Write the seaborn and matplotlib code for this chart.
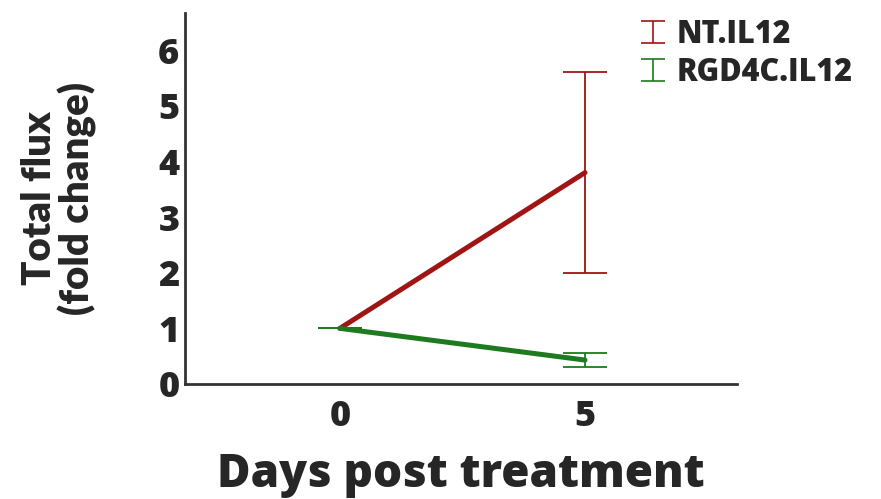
import numpy as np
import pandas as pd
import matplotlib.pyplot as plt
import seaborn as sns
from matplotlib.container import ErrorbarContainer
from matplotlib.legend_handler import HandlerErrorbar

sns.set_theme(style="white")
plt.rcParams['font.family'] = ['Open Sans', 'DejaVu Sans']

# data
days = [0, 5]
groups = ['NT.IL12', 'RGD4C.IL12']
nt_mean = [1.0, 3.8]
nt_err = [0.0, 1.8]
rgd_mean = [1.0, 0.43]
rgd_err = [0.0, 0.12]
colors = {'NT.IL12': '#A01414', 'RGD4C.IL12': '#1E7A1E'}


def plot_flux():
    df = pd.DataFrame({
        'day': days * 2,
        'group': [groups[0]] * 2 + [groups[1]] * 2,
        'mean': nt_mean + rgd_mean,
        'err': nt_err + rgd_err,
    })

    fig = plt.figure(figsize=(8.81, 4.99), dpi=100)
    ax = fig.add_axes([0.21, 0.2305, 0.6265, 0.7435])

    sns.lineplot(data=df, x='day', y='mean', hue='group', palette=colors,
                 linewidth=3.6, legend=False, ax=ax, zorder=3)

    proxies = []
    for g in groups:
        sub = df[df['group'] == g]
        ax.errorbar(sub['day'], sub['mean'], yerr=sub['err'], fmt='none',
                    ecolor=colors[g], elinewidth=1.3, capsize=16,
                    capthick=1.3, zorder=2)
        # small version of the error bar just for the legend
        p = ax.errorbar([0], [np.nan], yerr=[0.1], fmt='none',
                        ecolor=colors[g], elinewidth=1.2, capsize=8.5,
                        capthick=1.2, label=g)
        proxies.append(p)

    ax.set_xlim(-3.16, 8.1)
    ax.set_ylim(0, 6.67)
    ax.set_xticks(days)
    ax.set_yticks(range(0, 7))
    ax.tick_params(axis='y', length=0, labelsize=26, pad=4)
    ax.tick_params(axis='x', length=0, labelsize=26, pad=11)
    for lab in ax.get_xticklabels() + ax.get_yticklabels():
        lab.set_fontweight('heavy')

    ax.set_xlabel('Days post treatment', fontsize=33, fontweight='heavy', labelpad=12)
    ax.set_ylabel('Total flux\n(fold change)', fontsize=29, fontweight='heavy',
                  family=['Lato', 'DejaVu Sans'], labelpad=44, linespacing=1.0)

    sns.despine(ax=ax)
    for s in ['left', 'bottom']:
        ax.spines[s].set_color('#333333')
        ax.spines[s].set_linewidth(2)

    ax.legend(handles=proxies, labels=groups, loc='upper left',
              bbox_to_anchor=(0.697, 1.018), bbox_transform=fig.transFigure,
              frameon=False, prop={'size': 22, 'weight': 'heavy'},
              handlelength=0.75, handletextpad=0.4, labelspacing=0.2,
              handler_map={ErrorbarContainer: HandlerErrorbar(yerr_size=0.37)})

    fig.savefig('out.png', dpi=100)


if __name__ == "__main__":
    plot_flux()
